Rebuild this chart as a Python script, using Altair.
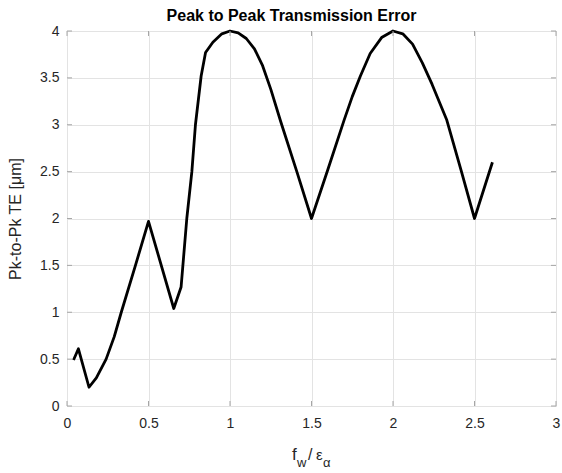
import altair as alt
import pandas as pd

# Data
ratio = [0.04, 0.07, 0.135, 0.18, 0.24, 0.29, 0.333, 0.42, 0.5, 0.655, 0.70,
         0.735, 0.766, 0.788, 0.823, 0.85, 0.895, 0.95, 1.0, 1.05, 1.1, 1.15,
         1.2, 1.25, 1.31, 1.41, 1.5, 1.6, 1.7, 1.75, 1.8, 1.86, 1.93, 2.0,
         2.06, 2.12, 2.18, 2.24, 2.33, 2.42, 2.5, 2.61]
pk2pk = [0.49, 0.61, 0.2, 0.3, 0.5, 0.74, 1.0, 1.5, 1.97, 1.04, 1.27,
         2.0, 2.5, 3.0, 3.52, 3.77, 3.88, 3.97, 4.0, 3.98, 3.92, 3.81,
         3.63, 3.38, 3.04, 2.5, 2.0, 2.52, 3.05, 3.3, 3.52, 3.76, 3.93, 4.0,
         3.97, 3.86, 3.66, 3.43, 3.05, 2.5, 2.0, 2.6]

x_ticks = [0, 0.5, 1, 1.5, 2, 2.5, 3]
y_ticks = [0, 0.5, 1, 1.5, 2, 2.5, 3, 3.5, 4]

W, H = 489, 375
FONT = "Liberation Sans"
TXT = "#262626"
BOX = "#a6a6a6"

df = pd.DataFrame({"r": ratio, "te": pk2pk})
xt = pd.DataFrame({"t": x_ticks})
yt = pd.DataFrame({"t": y_ticks})

xs = alt.Scale(domain=[0, 3], nice=False, zero=False)
ys = alt.Scale(domain=[0, 4], nice=False, zero=False)

line = alt.Chart(df).mark_line(color="black", strokeWidth=2.8, strokeJoin="round").encode(
    x=alt.X("r:Q", scale=xs, axis=alt.Axis(
        values=x_ticks, title=None, grid=True, gridColor="#e3e3e3", gridWidth=1,
        domain=False, ticks=False, labelFont=FONT, labelFontSize=14,
        labelColor=TXT, labelPadding=10, labelFlush=False,
        labelExpr="datum.value")),
    y=alt.Y("te:Q", scale=ys, axis=alt.Axis(
        values=y_ticks, title="Pk-to-Pk TE [μm]", grid=True, gridColor="#e3e3e3",
        gridWidth=1, domain=False, ticks=False, labelFont=FONT, labelFontSize=14,
        labelColor=TXT, labelPadding=8, labelFlush=False, labelExpr="datum.value",
        titleFont=FONT, titleFontSize=16, titleFontWeight="normal", titleColor=TXT,
        titleX=-52, titleY=H / 2, titleAngle=-90, titleBaseline="middle",
        titleAlign="center")),
)

tick_len = 5
xb = alt.Chart(xt).mark_rule(color=BOX, strokeWidth=1).encode(
    x=alt.X("t:Q", scale=xs), y=alt.value(H), y2=alt.value(H - tick_len))
xtop = alt.Chart(xt).mark_rule(color=BOX, strokeWidth=1).encode(
    x=alt.X("t:Q", scale=xs), y=alt.value(0), y2=alt.value(tick_len))
yl = alt.Chart(yt).mark_rule(color=BOX, strokeWidth=1).encode(
    y=alt.Y("t:Q", scale=ys), x=alt.value(0), x2=alt.value(tick_len))
yr = alt.Chart(yt).mark_rule(color=BOX, strokeWidth=1).encode(
    y=alt.Y("t:Q", scale=ys), x=alt.value(W), x2=alt.value(W - tick_len))

# x-axis title f_w / epsilon_alpha with subscripts
def txt(s, x, y, size):
    return alt.Chart(pd.DataFrame({"s": [s]})).mark_text(
        font=FONT, fontSize=size, color=TXT, align="left", baseline="alphabetic"
    ).encode(text="s:N", x=alt.value(x), y=alt.value(y))

xlabel = (txt("f", 225, 429, 17) + txt("w", 230, 436, 13) + txt("/", 241, 429, 16)
          + txt("ε", 249, 429, 15) + txt("α", 256, 436, 13))

chart = alt.layer(line, xb, xtop, yl, yr, xlabel).properties(
    width=W, height=H,
    title=alt.TitleParams("Peak to Peak Transmission Error", font=FONT, fontSize=16,
                          fontWeight="bold", color="black", anchor="middle",
                          offset=0, dx=-20),
    autosize=alt.AutoSizeParams(type="none"),
    padding={"left": 67, "top": 31, "right": 6, "bottom": 67},
).configure_view(stroke=BOX, strokeWidth=1).configure(background="white")

chart.save("out.html", embed_options={"renderer": "svg", "actions": False})
